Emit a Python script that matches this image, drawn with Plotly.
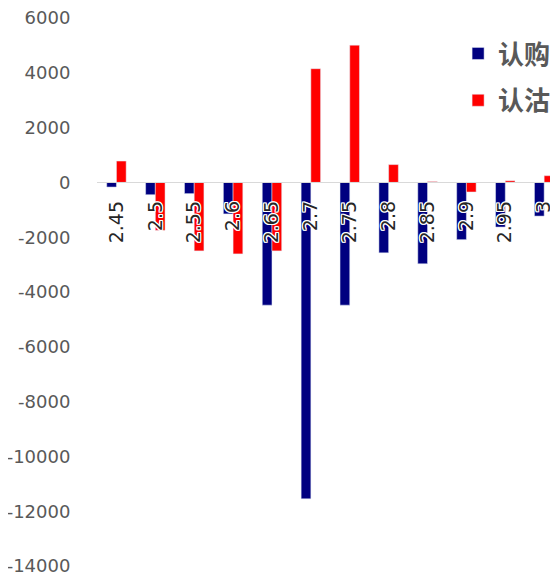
import plotly.graph_objects as go

strikes = ["2.45", "2.5", "2.55", "2.6", "2.65", "2.7", "2.75", "2.8", "2.85", "2.9", "2.95", "3"]
call_vals = [-170, -450, -410, -1150, -4480, -11550, -4480, -2570, -2970, -2090, -1630, -1230]
put_vals = [780, -1750, -2500, -2610, -2500, 4150, 5010, 650, 30, -350, 60, 245]
y_ticks = [6000, 4000, 2000, 0, -2000, -4000, -6000, -8000, -10000, -12000, -14000]

fig = go.Figure()
fig.add_trace(go.Bar(x=strikes, y=call_vals, name="认购", marker_color="#000080",
                     legendgroup="a"))
fig.add_trace(go.Bar(x=strikes, y=put_vals, name="认沽", marker_color="#FF0000",
                     legendgroup="b"))

ymin, ymax = -14000, 6000
halo = "1px 1px 0 white, -1px -1px 0 white, 1px -1px 0 white, -1px 1px 0 white, 0 1px 0 white, 0 -1px 0 white, 1px 0 0 white, -1px 0 0 white"

# page body has an 8px margin, so the figure is 8px smaller and shifted
fig.update_layout(
    width=550, height=570,
    margin=dict(l=89, r=1, t=10, b=12, autoexpand=False),
    plot_bgcolor="white", paper_bgcolor="white",
    barmode="group", bargap=0.5, bargroupgap=0.0,
    showlegend=True,
    legend=dict(x=0.785, y=0.978, xanchor="left", yanchor="top",
                font=dict(family="Noto Sans CJK SC", size=26, color="#595959", weight="bold"),
                tracegroupgap=10, traceorder="grouped", bgcolor="rgba(0,0,0,0)"),
    xaxis=dict(
        type="category",
        range=[-0.5, 11.33],
        anchor="free",
        position=(0 - ymin) / (ymax - ymin),
        automargin=False,
        showline=True, linecolor="#d9d9d9", linewidth=1,
        showgrid=False, zeroline=False,
        ticks="outside", ticklen=10, tickcolor="rgba(0,0,0,0)",
        tickangle=-90,
        ticklabeloverflow="allow",
        tickfont=dict(family="DejaVu Sans", size=19, color="#262626", shadow=halo),
    ),
    yaxis=dict(
        range=[ymin, ymax],
        domain=[0, 1],
        automargin=False,
        tickvals=y_ticks,
        ticktext=[str(v) for v in y_ticks],
        showgrid=False, zeroline=False, showline=False,
        ticks="outside", ticklen=22, tickcolor="rgba(0,0,0,0)",
        ticklabeloverflow="allow",
        tickfont=dict(family="DejaVu Sans", size=18, color="#595959"),
    ),
)

fig.write_html("out.html")
